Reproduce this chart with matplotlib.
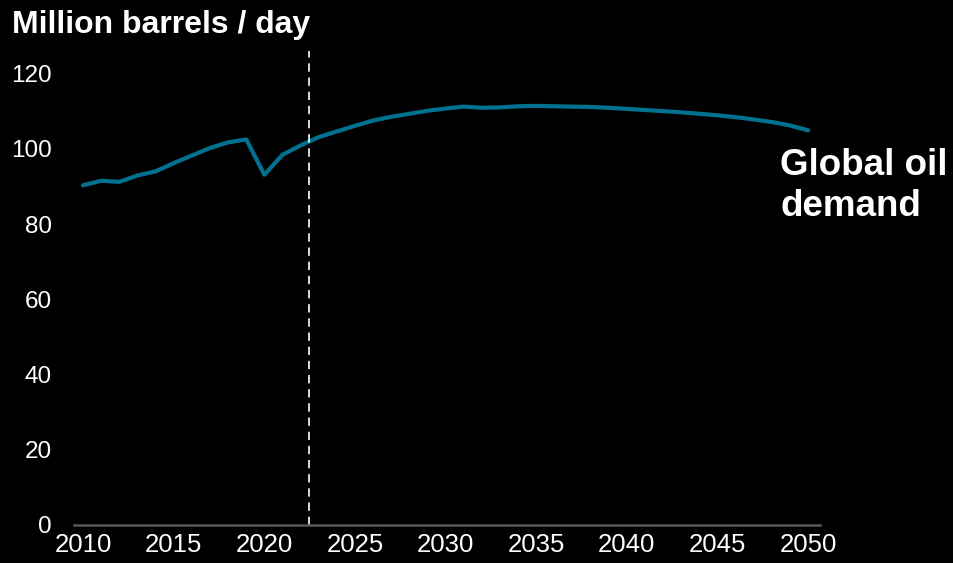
import matplotlib.pyplot as plt

plt.rcParams['font.family'] = ['Liberation Sans', 'DejaVu Sans']

years = list(range(2010, 2051))
demand = [90.3, 91.5, 91.2, 92.9, 94.0, 96.2, 98.2, 100.2, 101.7, 102.5,
          93.1, 98.4, 100.9, 103.1, 104.6, 106.1, 107.5, 108.5, 109.3, 110.1,
          110.7, 111.2, 110.9, 111.0, 111.3, 111.4, 111.3, 111.2, 111.1, 110.9,
          110.6, 110.3, 110.0, 109.7, 109.3, 108.9, 108.4, 107.8, 107.1, 106.2,
          104.9]
projection_start = 2022.45
yticks = [0, 20, 40, 60, 80, 100, 120]
xticks = list(range(2010, 2051, 5))

fig = plt.figure(figsize=(9.54, 5.63), dpi=100, facecolor='black')
ax = fig.add_axes([0.0776, 0.0675, 0.782, 0.842], facecolor='black')

ax.plot(years, demand, color='#00728f', linewidth=3, solid_capstyle='round')
ax.axvline(projection_start, color='white', linewidth=1.2, linestyle=(0, (5, 3.5)))

ax.set_xlim(2009.5, 2050.66)
ax.set_ylim(0, 126)
ax.set_xticks(xticks)
ax.set_yticks(yticks)
ax.tick_params(axis='both', length=0, colors='white')
ax.tick_params(axis='x', pad=6, labelsize=18.5)
ax.tick_params(axis='y', pad=16, labelsize=17.5)

for side in ['top', 'right', 'left']:
    ax.spines[side].set_visible(False)
ax.spines['bottom'].set_color('#595959')
ax.spines['bottom'].set_linewidth(1.8)

fig.text(12 / 954, 1 - 33 / 563, 'Million barrels / day', color='white',
         fontsize=23, fontweight='bold', va='baseline', ha='left')
fig.text(780 / 954, 1 - 175 / 563, 'Global oil', color='white',
         fontsize=26.5, fontweight='bold', va='baseline', ha='left')
fig.text(780 / 954, 1 - 216 / 563, 'demand', color='white',
         fontsize=26.5, fontweight='bold', va='baseline', ha='left')

fig.savefig('out.png', dpi=100, facecolor='black')
